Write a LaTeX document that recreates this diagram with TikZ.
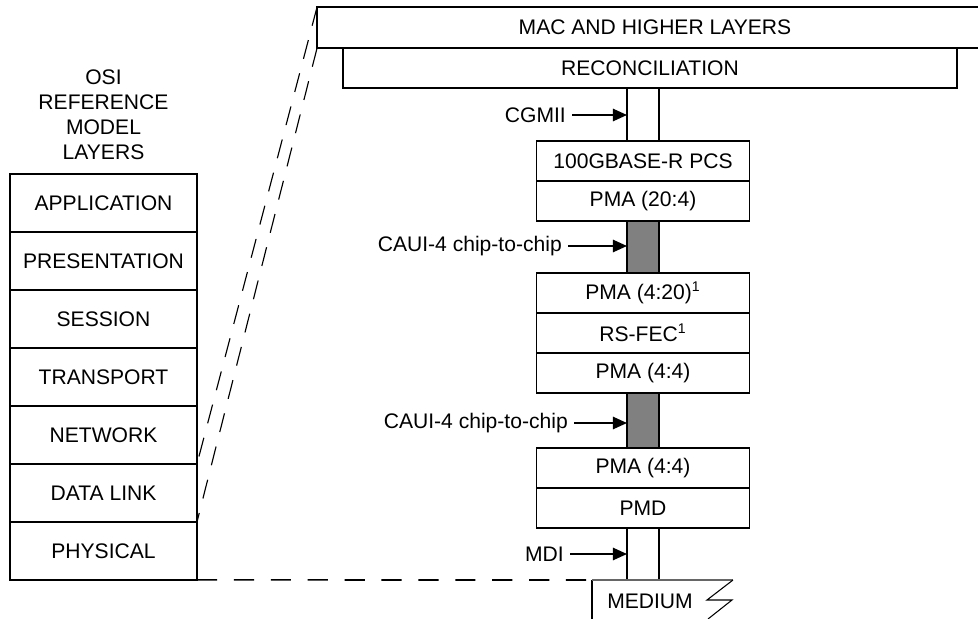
\documentclass[tikz,border=0pt]{standalone}
\usepackage{fontspec}
\setmainfont{Liberation Sans}
\usetikzlibrary{arrows.meta, positioning}

\begin{document}
\begin{tikzpicture}[
    x=0.02cm, y=-0.02cm,
    font=\fontsize{12pt}{14.2pt}\selectfont,
    box/.style={draw, line width=1pt, outer sep=0pt, inner sep=0pt},
    osi/.style={box, minimum width=3.74cm, minimum height=1.16cm},
    sub/.style={box, minimum width=4.26cm, minimum height=0.8cm},
    chan/.style={box, minimum width=0.64cm},
    link/.style={dash pattern=on 11pt off 8.5pt, line width=0.65pt},
    feed/.style={-{Triangle[length=8pt, width=7pt]}, line width=1pt},
]

\clip (0,0) rectangle (978,619);

% OSI reference model
\node[align=center] (osi) at (103.5,115) {OSI\\REFERENCE\\MODEL\\LAYERS};
\node[osi] (app) at (103.5,203) {APPLICATION};
\node[osi, below=0pt of app] (pres) {PRESENTATION};
\node[osi, below=0pt of pres] (sess) {SESSION};
\node[osi, below=0pt of sess] (trans) {TRANSPORT};
\node[osi, below=0pt of trans] (net) {NETWORK};
\node[osi, below=0pt of net] (dl) {DATA LINK};
\node[osi, below=0pt of dl] (phy) {PHYSICAL};

% 100GBASE-R sublayers
\node[box, minimum width=13.52cm, minimum height=0.82cm] (mac) at (655,27.5) {MAC AND HIGHER LAYERS};
\node[box, minimum width=12.28cm, minimum height=0.8cm] (rs) at (650,68) {RECONCILIATION};

\node[sub] (pcs) at (643,161) {100GBASE-R PCS};
\node[chan, minimum height=1.06cm, above=0pt of pcs] (cgmii) {};
\node[sub, below=0pt of pcs] (pma1) {PMA (20:4)};
\node[chan, fill=black!50, minimum height=1.04cm, below=0pt of pma1] (caui1) {};
\node[sub, below=0pt of caui1] (pma2) {PMA (4:20)\textsuperscript{1}};
\node[sub, below=0pt of pma2] (fec) {RS-FEC\textsuperscript{1}};
\node[sub, below=0pt of fec] (pma3) {PMA (4:4)};
\node[chan, fill=black!50, minimum height=1.1cm, below=0pt of pma3] (caui2) {};
\node[sub, below=0pt of caui2] (pma4) {PMA (4:4)};
\node[sub, below=0pt of pma4] (pmd) {PMD};
\node[chan, minimum height=1.04cm, below=0pt of pmd] (mdi) {};

% interface labels
\node[anchor=east] (lcgmii) at (572,115) {CGMII};
\node[anchor=east] (lcaui1) at (568,246) {CAUI-4 chip-to-chip};
\node[anchor=east] (lcaui2) at (574,423) {CAUI-4 chip-to-chip};
\node[anchor=east] (lmdi) at (570,554) {MDI};

\draw[feed] (lcgmii.east) -- (lcgmii.east -| cgmii.west);
\draw[feed] (lcaui1.east) -- (lcaui1.east -| caui1.west);
\draw[feed] (lcaui2.east) -- (lcaui2.east -| caui2.west);
\draw[feed] (lmdi.east) -- (lmdi.east -| mdi.west);

% medium
\coordinate (medtl) at (592,580);
\node (medium) at (650,601) {MEDIUM};
\draw[line width=1pt] (592,630) -- (medtl);
\draw[line width=0.8pt, black!60] (medtl) -- (733,580);
\draw[line width=0.6pt] (733,580) -- (707,600) -- (732,600) -- (708,619);

% mapping lines
\draw[link] (mac.north west) -- (dl.north east);
\draw[link] (mac.south west) -- (dl.south east);
\draw[link, line width=0.9pt, dash pattern=on 11.5pt off 9.5pt] (phy.south east) -- (medtl);

\end{tikzpicture}
\end{document}
